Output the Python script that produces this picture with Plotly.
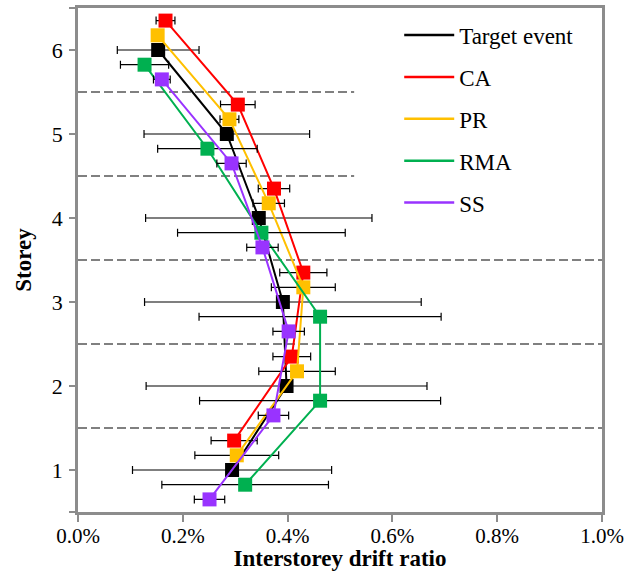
import plotly.graph_objects as go

# ---- data (interstorey drift ratio, %) ----
storeys = [1, 2, 3, 4, 5, 6]
series_names = ["Target event", "CA", "PR", "RMA", "SS"]

target_mean = [0.294, 0.398, 0.391, 0.345, 0.284, 0.153]
target_err = [0.190, 0.268, 0.264, 0.216, 0.158, 0.078]

ca_mean = [0.298, 0.408, 0.430, 0.374, 0.305, 0.167]
ca_err = [0.044, 0.036, 0.045, 0.030, 0.033, 0.018]

pr_mean = [0.303, 0.418, 0.430, 0.364, 0.289, 0.152]
pr_err = [0.080, 0.073, 0.061, 0.030, 0.018, 0.010]

rma_mean = [0.319, 0.462, 0.462, 0.350, 0.247, 0.127]
rma_err = [0.159, 0.230, 0.231, 0.160, 0.095, 0.046]

ss_mean = [0.251, 0.373, 0.402, 0.352, 0.293, 0.160]
ss_err = [0.029, 0.029, 0.030, 0.030, 0.028, 0.016]

x_ticks = [0.0, 0.2, 0.4, 0.6, 0.8, 1.0]
storey_boundaries = [1.5, 2.5, 3.5, 4.5, 5.5]

# ---- styling ----
colors = ["#000000", "#FF0000", "#FFC000", "#00B050", "#9933FF"]
offsets = [0.0, 0.35, 0.175, -0.175, -0.35]
means = [target_mean, ca_mean, pr_mean, rma_mean, ss_mean]
errs = [target_err, ca_err, pr_err, rma_err, ss_err]

FONT = "Times New Roman, Liberation Serif, serif"
AXIS_GRAY = "#8C8C8C"

fig = go.Figure()

for name, col, off, m, e in zip(series_names, colors, offsets, means, errs):
    fig.add_trace(go.Scatter(
        x=m,
        y=[s + off for s in storeys],
        mode="lines+markers",
        line=dict(color=col, width=2),
        marker=dict(symbol="square", size=14, color=col, line=dict(width=0)),
        error_x=dict(type="data", array=e, visible=True, color="#000000",
                     thickness=1.2, width=4),
        showlegend=False,
        name=name,
    ))

# legend entries (line only, as in the original)
for i, (name, col) in enumerate(zip(series_names, colors)):
    fig.add_trace(go.Scatter(
        x=[None], y=[None], mode="lines",
        line=dict(color=col, width=2.5),
        name=name, legendgroup=f"g{i}", showlegend=True,
    ))

# dashed storey boundary lines
for b in storey_boundaries:
    x_end = 0.527 if b > 4 else 1.0
    fig.add_shape(type="line", xref="x", yref="y", x0=0, x1=x_end, y0=b, y1=b,
                  line=dict(color="#808080", width=2, dash="9px,4px"), layer="below")

fig.update_layout(
    width=638, height=571,
    margin=dict(l=78, r=36, t=8, b=59),
    plot_bgcolor="white", paper_bgcolor="white",
    font=dict(family=FONT, size=22, color="black"),
    legend=dict(x=0.613, y=0.989, xanchor="left", yanchor="top",
                font=dict(family=FONT, size=23, color="black"),
                bgcolor="rgba(255,255,255,0)", tracegroupgap=9,
                itemwidth=50),
)

fig.update_xaxes(
    range=[0, 1.0], tickvals=x_ticks, ticktext=[f"{v:.1f}%" for v in x_ticks],
    showgrid=False, zeroline=False, automargin=False,
    showline=True, linecolor=AXIS_GRAY, linewidth=2.5, mirror=True,
    ticks="outside", ticklen=7, tickcolor=AXIS_GRAY, tickwidth=1.5,
    tickfont=dict(family=FONT, size=21), ticklabelstandoff=-4,
    title=dict(text="<b>Interstorey drift ratio</b>", font=dict(family=FONT, size=23),
               standoff=2),
)

fig.update_yaxes(
    range=[0.5, 6.5], tickvals=[0.5] + storeys + [6.5],
    ticktext=[""] + [str(s) for s in storeys] + [""],
    showgrid=False, zeroline=False, automargin=False,
    showline=True, linecolor=AXIS_GRAY, linewidth=2.5, mirror=True,
    ticks="outside", ticklen=6, tickcolor=AXIS_GRAY, tickwidth=1.5,
    tickfont=dict(family=FONT, size=22), ticklabelstandoff=2,
    title=dict(text="<b>Storey</b>", font=dict(family=FONT, size=23), standoff=14),
)

fig.write_html("out.html")
